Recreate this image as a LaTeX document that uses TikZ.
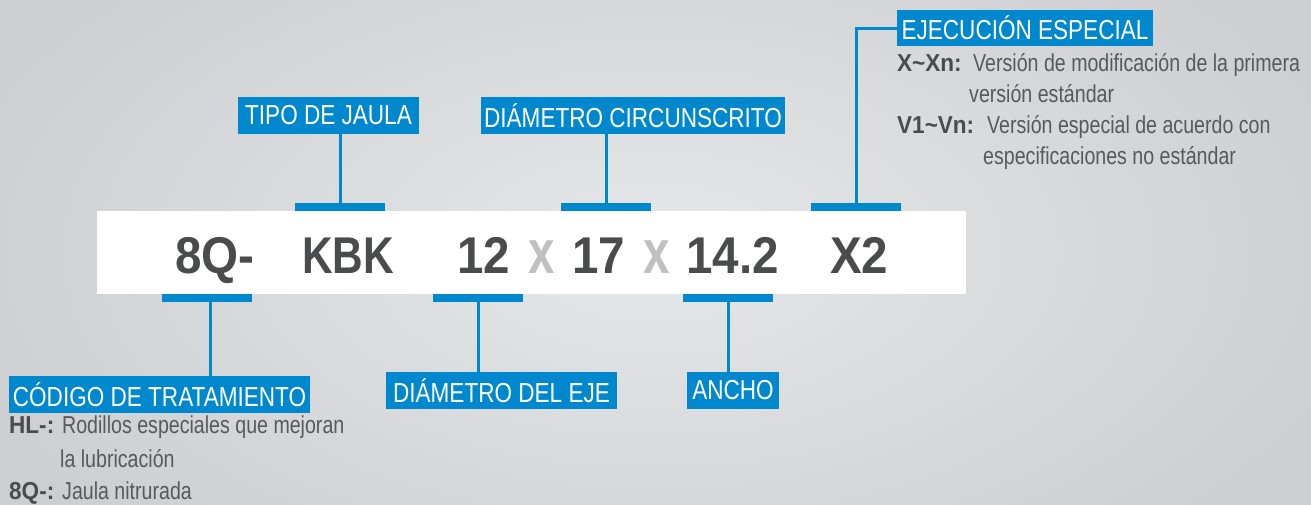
\documentclass[tikz,border=0pt]{standalone}
\usepackage{fontspec}
\newfontfamily\cond[FakeStretch=0.82]{Liberation Sans}
\newfontfamily\condd[FakeStretch=0.80]{Liberation Sans}
\newfontfamily\condn[FakeStretch=0.92]{Liberation Sans}
\definecolor{brandblue}{HTML}{0088CF}
\definecolor{darkg}{HTML}{4A4B4D}
\definecolor{textg}{HTML}{58595B}
\definecolor{lightg}{HTML}{BFC0C2}
\definecolor{bgin}{HTML}{E6E7E9}
\definecolor{bgout}{HTML}{CDCED0}
\begin{document}
\begin{tikzpicture}[x=1pt,y=-1pt,
  lbl/.style={fill=brandblue, text=white, font=\cond\fontsize{27.5}{30}\selectfont, minimum height=37pt, inner sep=0pt, anchor=center},
  bar/.style={fill=brandblue, minimum width=90pt, minimum height=8pt, inner sep=0pt},
  big/.style={font=\condn\bfseries\fontsize{51.7}{56}\selectfont, text=darkg, anchor=base west, inner sep=0pt},
  bigl/.style={big, font=\cond\bfseries\fontsize{51.7}{56}\selectfont},
  desc/.style={font=\condd\fontsize{24.5}{28}\selectfont, text=textg, anchor=base west, inner sep=0pt},
  descb/.style={desc, font=\condn\bfseries\fontsize{24.5}{28}\selectfont, text=darkg},
  conn/.style={draw=brandblue, line width=3pt}]
\useasboundingbox (0,0) rectangle (1311,504);
\shade[inner color=bgin, outer color=bgout] (-100,-150) rectangle (1411,654);
% white band
\fill[white] (97,211) rectangle (966,294);
% label boxes
\node[lbl, minimum width=181pt] (tipo) at (328.5,115.5) {TIPO DE JAULA};
\node[lbl, minimum width=304pt] (circ) at (633,115.5) {DIÁMETRO CIRCUNSCRITO};
\node[lbl, minimum width=256pt, minimum height=36pt] (ejec) at (1025,28) {EJECUCIÓN ESPECIAL};
\node[lbl, minimum width=301pt] (cod) at (159.5,394.5) {CÓDIGO DE TRATAMIENTO};
\node[lbl, minimum width=231pt] (eje) at (501.5,390.5) {DIÁMETRO DEL EJE};
\node[lbl, minimum width=92pt] (ancho) at (733,390.5) {ANCHO};
% bars
\node[bar] (b1) at (207,298) {};
\node[bar] (b2) at (340,207) {};
\node[bar] (b3) at (478,298) {};
\node[bar] (b4) at (606,207) {};
\node[bar] (b5) at (728,298) {};
\node[bar] (b6) at (856,207) {};
% connectors
\draw[conn] ([xshift=3pt]b1.south) -- ([xshift=3pt]b1.south |- cod.north);
\draw[conn] (b2.north) -- (b2.north |- tipo.south);
\draw[conn] (b3.south) -- (b3.south |- eje.north);
\draw[conn] (b4.north) -- (b4.north |- circ.south);
\draw[conn] (b5.south) -- (b5.south |- ancho.north);
\draw[conn] (b6.north) |- (ejec.west);
% main code
\node[big] (t1) at (175,273) {8Q-};
\node[bigl] (t2) at (302,273) {KBK};
\node[big] (t3) at (457,273) {12};
\node[big, text=lightg] (x1) at (528,273) {\scalebox{1}[1.2]{x}};
\node[big] (t4) at (572,273) {17};
\node[big, text=lightg] (x2) at (643,273) {\scalebox{1}[1.2]{x}};
\node[big] (t5) at (686,273) {14.2};
\node[big] (t6) at (830,273) {X2};
% descriptions right
\node[descb] (k1) at (897,71) {X\textasciitilde Xn:};
\node[desc] (d1) at (973,71) {Versión de modificación de la primera};
\node[desc] (d1b) at (969,102) {versión estándar};
\node[descb] (k2) at (897,133) {V1\textasciitilde Vn:};
\node[desc] (d2) at (987,133) {Versión especial de acuerdo con};
\node[desc] (d2b) at (983,164) {especificaciones no estándar};
% descriptions left
\node[descb] (k3) at (9,433) {HL-:};
\node[desc] (d3) at (62,433) {Rodillos especiales que mejoran};
\node[desc] (d3b) at (60,467) {la lubricación};
\node[descb] (k4) at (9,499) {8Q-:};
\node[desc] (d4) at (62,499) {Jaula nitrurada};
\end{tikzpicture}
\end{document}
